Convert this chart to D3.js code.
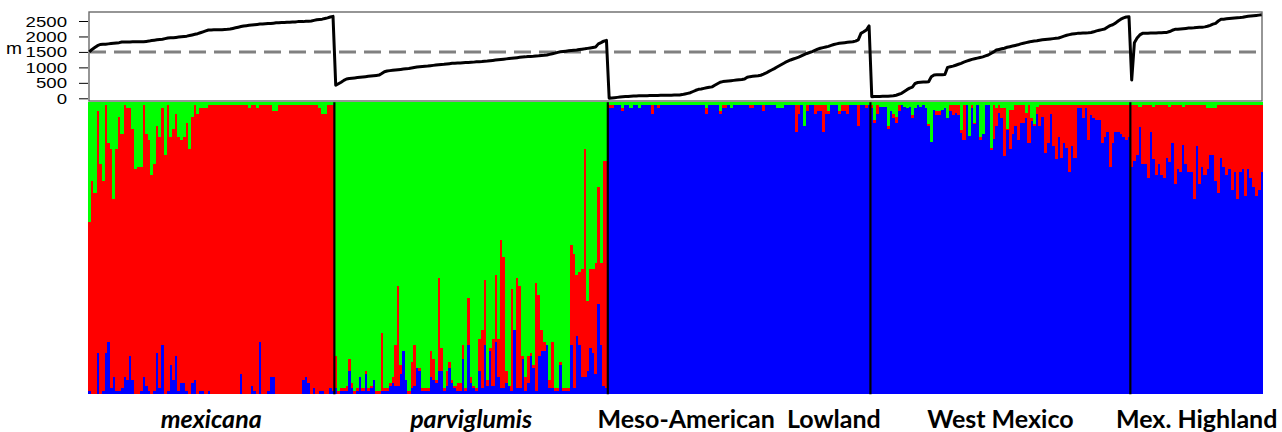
<!DOCTYPE html>
<html>
<head>
<meta charset="utf-8">
<script src="https://cdn.jsdelivr.net/npm/d3@7"></script>
<style>
  body { margin: 0; background: #fff; }
  svg { display: block; }
  .axis text, .unit { font-family: "Liberation Sans", Arial, sans-serif; font-size: 14px; fill: #000; }
  .grp { font-family: Lato, "Open Sans", sans-serif; font-weight: bold; font-size: 25px; }
</style>
</head>
<body>
<svg id="chart" width="1282" height="432"></svg>
<script>
// population labels under the bar plot
const groupNames = ["mexicana", "parviglumis", "Meso-American  Lowland", "West Mexico", "Mex. Highland"];
const italicGroups = ["mexicana", "parviglumis"];
const elevTicks = [0, 500, 1000, 1500, 2000, 2500];
const elevThreshold = 1500;

// altitude (m) of each individual, in plot order
const mexicanaElev = [1500,1580,1640,1700,1740,1750,1750,1760,1770,1780,
  1790,1800,1820,1820,1820,1820,1825,1825,1830,1830,
  1830,1840,1850,1870,1880,1890,1900,1910,1930,1950,
  1960,1960,1970,1980,1990,2000,2010,2030,2050,2070,
  2090,2120,2150,2180,2210,2210,2215,2215,2220,2220,
  2225,2230,2240,2260,2280,2300,2320,2340,2350,2360,
  2370,2380,2390,2400,2400,2410,2420,2420,2430,2440,
  2440,2450,2450,2460,2460,2470,2470,2480,2480,2480,
  2490,2490,2500,2520,2540,2550,2560,2580,2600,2630,
  2650];
const parviglumisElev = [420,470,520,580,625,640,650,660,670,680,
  690,700,710,720,730,740,750,800,860,885,
  895,905,915,925,935,945,955,965,980,995,
  1010,1020,1030,1040,1045,1055,1065,1075,1085,1095,
  1100,1110,1120,1130,1135,1140,1145,1150,1155,1160,
  1165,1170,1180,1185,1190,1200,1205,1215,1225,1235,
  1245,1255,1265,1275,1285,1295,1305,1315,1325,1335,
  1340,1350,1355,1360,1370,1375,1385,1390,1400,1420,
  1440,1460,1485,1505,1515,1525,1535,1545,1555,1565,
  1580,1590,1600,1615,1630,1645,1660,1760,1800,1850,
  1875];
const lowlandElev = [0,10,20,30,40,50,55,60,70,75,
  78,80,82,84,86,88,90,92,94,96,
  98,100,100,102,104,105,105,120,140,160,
  180,220,260,290,300,320,340,355,370,420,
  470,520,540,550,560,570,580,590,600,610,
  625,680,700,710,720,730,745,780,820,870,
  915,960,1010,1060,1110,1160,1200,1240,1270,1300,
  1330,1370,1410,1450,1480,1510,1550,1590,1620,1640,
  1660,1680,1710,1740,1760,1780,1790,1800,1810,1820,
  1830,1850,1890,2100,2150,2210,2340];
const westElev = [50,55,60,62,65,68,70,75,80,100,
  130,160,220,280,330,360,480,510,520,525,
  530,535,700,755,760,760,765,770,1000,1020,
  1040,1070,1100,1130,1170,1200,1230,1260,1280,1300,
  1320,1340,1370,1400,1450,1500,1560,1580,1600,1620,
  1650,1670,1690,1710,1730,1760,1780,1800,1820,1840,
  1850,1860,1880,1890,1900,1910,1920,1930,1940,1950,
  1980,2010,2040,2060,2080,2090,2100,2105,2110,2115,
  2120,2130,2150,2180,2200,2220,2240,2300,2350,2380,
  2430,2500,2560,2600,2630,2640];
const highlandElev = [590,1800,1950,2050,2100,2100,2105,2110,2110,2115,
  2120,2120,2125,2130,2160,2200,2230,2230,2240,2250,
  2260,2270,2275,2280,2290,2300,2300,2310,2330,2360,
  2400,2425,2500,2555,2560,2570,2580,2590,2600,2605,
  2610,2620,2640,2650,2660,2670,2680,2690,2700];

// ancestry proportions (K=3); the missing cluster of each group is the remainder
const mexicanaGreen = [0.41,0.27,0.31,0.03,0.21,0.27,0.01,0.14,0.16,0.33,
  0.16,0.05,0.11,0.01,0.02,0.02,0.09,0.23,0.22,0.22,
  0.01,0.11,0.13,0.25,0.21,0.08,0.12,0.02,0.18,0.01,
  0.12,0.09,0.04,0.12,0.13,0.12,0.07,0.16,0.05,0.01,
  0.04,0.02,0.02,0.02,0.01,0.01,0.01,0.01,0.01,0.01,
  0.01,0.01,0.01,0.01,0.01,0.01,0.01,0.01,0.01,0.02,
  0.01,0.01,0.02,0.01,0.01,0.01,0.01,0.01,0.03,0.03,
  0.01,0.01,0.01,0.01,0.01,0.01,0.01,0.01,0.01,0.01,
  0.01,0.01,0.01,0.01,0.01,0.02,0.04,0.04,0.01,0.01,
  0.01];
const mexicanaBlue = [0.01,0,0,0.14,0,0.01,0.14,0.18,0.02,0.06,
  0.01,0.01,0.02,0.06,0.05,0.13,0.05,0,0,0.01,
  0.06,0.03,0.01,0,0.01,0.14,0.02,0.17,0,0.01,
  0.10,0.05,0.13,0.01,0.04,0.04,0.01,0,0.04,0.05,
  0,0.01,0.01,0,0.01,0,0,0,0,0,
  0,0,0,0,0,0,0.07,0,0,0,
  0.03,0.01,0,0.18,0,0,0.01,0.06,0.06,0,
  0,0,0,0,0,0,0,0,0,0.05,
  0.06,0.04,0,0.02,0,0.01,0.01,0,0,0.02,
  0.01];
const parviglumisRed = [0.11,0.01,0.01,0.01,0.02,0.04,0.02,0.01,0.01,0,
  0.01,0.01,0.01,0.01,0,0.01,0.01,0.20,0.01,0.01,
  0.01,0.02,0.14,0.34,0.03,0,0,0.01,0.09,0.14,
  0,0.01,0.01,0.01,0.01,0.09,0.07,0.01,0.32,0.08,
  0.01,0.05,0.02,0.01,0.01,0.03,0.03,0.05,0.01,0.16,
  0.02,0.01,0.01,0.11,0.20,0.22,0.02,0.01,0.16,0.23,
  0.13,0.51,0.45,0.04,0,0.35,0,0.38,0.35,0.01,
  0.05,0.09,0.01,0.01,0.37,0.21,0.07,0.03,0,0.03,
  0.16,0.01,0.01,0.01,0.01,0.01,0.01,0.34,0.46,0.21,
  0.25,0.37,0.78,0.24,0.27,0.29,0.38,0.40,0.28,0.77,
  0.78];
const parviglumisBlue = [0.02,0,0.01,0.01,0.01,0.08,0.02,0,0.01,0.06,
  0.01,0.07,0.01,0.02,0.05,0,0,0.01,0.01,0.01,
  0.03,0.04,0.03,0.03,0.07,0.15,0.05,0,0.02,0.03,
  0.09,0.08,0.01,0.01,0.01,0.06,0.05,0.04,0.08,0.08,
  0.01,0.03,0.09,0.04,0.02,0.01,0.01,0.12,0.01,0.17,
  0.04,0.02,0.01,0.08,0.02,0.17,0.03,0.15,0.03,0.18,
  0.06,0.02,0.02,0.04,0.03,0.01,0.22,0.02,0.02,0.12,
  0.01,0.04,0.13,0.09,0.01,0.13,0.15,0.15,0.17,0.02,
  0.02,0.01,0.01,0.10,0.01,0.01,0.01,0.17,0.02,0.20,
  0.17,0.06,0.06,0.08,0.16,0.14,0.07,0.31,0.17,0.03,
  0.02];
const lowlandGreen = [0.01,0.01,0.01,0.01,0.01,0.02,0.01,0.01,0.02,0.01,
  0.01,0.02,0.01,0.01,0.01,0.01,0.01,0.01,0.01,0.01,
  0.01,0.01,0.01,0.01,0.01,0.01,0.01,0.01,0.01,0.01,
  0.01,0.01,0.01,0.01,0.01,0.01,0.02,0.01,0.01,0.01,
  0.01,0.03,0.01,0.01,0.01,0.02,0.01,0.01,0.01,0.01,
  0.01,0.01,0.01,0.01,0.01,0.01,0.01,0.01,0.01,0.01,
  0.01,0.01,0.02,0.02,0.02,0.01,0.01,0.01,0.01,0.01,
  0.01,0.01,0.08,0.01,0.01,0.01,0.01,0.01,0.01,0.01,
  0.01,0.03,0.01,0.01,0.01,0.03,0.01,0.01,0.01,0.01,
  0.01,0.01,0.01,0.01,0.01,0.01,0.01];
const lowlandRed = [0.01,0.01,0,0,0,0.01,0,0,0,0,
  0,0,0,0,0,0,0.03,0,0.01,0,
  0,0,0,0,0,0,0,0,0,0,
  0,0,0,0,0,0,0.02,0,0,0,
  0,0.01,0.01,0.01,0,0,0,0,0,0,
  0,0,0.01,0.01,0,0,0,0.02,0,0,
  0,0,0,0,0,0,0,0,0,0.09,
  0.03,0,0,0.02,0,0,0.03,0.02,0.02,0.09,
  0.03,0.01,0,0,0,0.01,0.02,0.02,0.03,0,
  0,0,0.07,0,0,0.01,0];
const westGreen = [0.01,0.06,0.01,0.015,0.015,0.015,0.08,0.03,0.04,0.05,
  0.01,0.01,0.015,0.02,0.015,0.045,0.02,0.01,0.015,0.01,
  0.02,0.075,0.135,0.025,0.03,0.03,0.025,0.02,0.055,0.01,
  0.01,0.01,0.01,0.095,0.01,0.01,0.115,0.01,0.07,0.01,
  0.12,0.11,0.01,0.01,0.155,0.01,0.02,0.01,0.02,0.02,
  0.09,0.025,0.025,0.01,0.01,0.01,0.01,0.035,0.01,0.055,
  0.075,0.015,0.01,0.01,0.01,0.01,0.01,0.01,0.01,0.01,
  0.01,0.01,0.01,0.01,0.01,0.01,0.01,0.01,0.01,0.01,
  0.01,0.01,0.01,0.01,0.01,0.01,0.01,0.01,0.01,0.01,
  0.01,0.01,0.01,0.01,0.01,0.01];
const westRed = [0.01,0.01,0.03,0,0,0,0.01,0,0.015,0.02,
  0.02,0,0,0,0,0.01,0,0,0,0,
  0,0.005,0,0,0.015,0.015,0,0,0,0.02,
  0.035,0.025,0.035,0.01,0.12,0,0,0.01,0.005,0,
  0.01,0,0,0,0.01,0.115,0.06,0.025,0.035,0.165,
  0.005,0.135,0.085,0.07,0.12,0.06,0.06,0.02,0.13,0.01,
  0.005,0.025,0.07,0.04,0.165,0.13,0.03,0.14,0.185,0.11,
  0.18,0.13,0.145,0.23,0.14,0.18,0.01,0.01,0.045,0.01,
  0.12,0.035,0.045,0.05,0.05,0.13,0.11,0.09,0.21,0.13,
  0.09,0.09,0.10,0.11,0.12,0.11];
const highlandGreen = [0.01,0.01,0.01,0.015,0.01,0.01,0.01,0.01,0.015,0.01,
  0.01,0.01,0.01,0.01,0.015,0.01,0.01,0.01,0.01,0.015,
  0.01,0.01,0.01,0.01,0.01,0.01,0.01,0.01,0.02,0.02,
  0.02,0.02,0.01,0.01,0.01,0.01,0.01,0.01,0.01,0.01,
  0.01,0.01,0.01,0.01,0.01,0.01,0.01,0.01,0.01];
const highlandRed = [0.21,0.19,0.17,0.07,0.20,0.20,0.25,0.09,0.18,0.24,
  0.20,0.24,0.25,0.18,0.19,0.13,0.27,0.22,0.23,0.13,
  0.20,0.23,0.23,0.32,0.14,0.27,0.21,0.24,0.21,0.16,
  0.16,0.25,0.30,0.18,0.21,0.24,0.22,0.29,0.23,0.32,
  0.23,0.22,0.31,0.22,0.25,0.28,0.31,0.29,0.23];

const clusterKeys = ["blue", "red", "green"];   // stacking order, bottom to top
const clusterColors = { blue: "#0000ff", red: "#ff0000", green: "#00ff00" };

// one row per individual
const groupSources = [
  { elev: mexicanaElev, green: mexicanaGreen, blue: mexicanaBlue },
  { elev: parviglumisElev, red: parviglumisRed, blue: parviglumisBlue },
  { elev: lowlandElev, green: lowlandGreen, red: lowlandRed },
  { elev: westElev, green: westGreen, red: westRed },
  { elev: highlandElev, green: highlandGreen, red: highlandRed }
];
const individuals = [];
groupSources.forEach((src, gi) => {
  src.elev.forEach((e, i) => {
    const row = { id: individuals.length, group: gi, elev: e };
    const given = clusterKeys.filter(k => src[k]);
    given.forEach(k => row[k] = src[k][i]);
    const rest = 1 - d3.sum(given, k => row[k]);
    clusterKeys.filter(k => !src[k]).forEach(k => row[k] = Math.max(0, rest));
    individuals.push(row);
  });
});

const svg = d3.select("#chart");
const plotLeft = 88, plotRight = 1263;

const x = d3.scaleBand()
  .domain(individuals.map(d => d.id))
  .range([plotLeft, plotRight])
  .padding(0);
const yQ = d3.scaleLinear().domain([0, 1]).range([394.3, 102.3]);
const yE = d3.scaleLinear().domain([0, 2500]).range([98.3, 21]);

// ---- ancestry bars
const stacked = d3.stack().keys(clusterKeys)(individuals);
svg.append("g")
  .attr("shape-rendering", "crispEdges")
  .selectAll("g")
  .data(stacked)
  .join("g")
  .attr("fill", s => clusterColors[s.key])
  .selectAll("rect")
  .data(s => s)
  .join("rect")
  .attr("x", d => x(d.data.id))
  .attr("width", x.bandwidth() + 0.4)
  .attr("y", d => yQ(d[1]))
  .attr("height", d => Math.max(0, yQ(d[0]) - yQ(d[1])));

// group boundaries
const groupExtents = groupNames.map((name, gi) => {
  const members = individuals.filter(d => d.group === gi);
  const x0 = x(members[0].id);
  const x1 = x(members[members.length - 1].id) + x.bandwidth();
  return { name, gi, x0, x1 };
});
svg.append("g")
  .selectAll("line")
  .data(groupExtents.slice(1))
  .join("line")
  .attr("x1", d => d.x0).attr("x2", d => d.x0)
  .attr("y1", yQ(1)).attr("y2", yQ(0))
  .attr("stroke", "#000")
  .attr("stroke-width", 2.2);

// group labels
svg.append("g")
  .selectAll("text")
  .data(groupExtents)
  .join("text")
  .attr("class", "grp")
  .attr("x", d => (d.x0 + d.x1) / 2)
  .attr("y", 428)
  .attr("text-anchor", "middle")
  .attr("font-style", d => italicGroups.includes(d.name) ? "italic" : "normal")
  .attr("xml:space", "preserve")
  .style("white-space", "pre")
  .text(d => d.name);

// ---- altitude panel
svg.append("rect")
  .attr("x", 89).attr("y", 12)
  .attr("width", 1173).attr("height", 89)
  .attr("fill", "none")
  .attr("stroke", "#6a6a6a")
  .attr("stroke-width", 1.4);

svg.append("line")
  .attr("x1", 89).attr("x2", 1262)
  .attr("y1", yE(elevThreshold)).attr("y2", yE(elevThreshold))
  .attr("stroke", "#808080")
  .attr("stroke-width", 3)
  .attr("stroke-dasharray", "17,8");

const elevLine = d3.line()
  .x(d => x(d.id) + x.bandwidth() / 2)
  .y(d => yE(d.elev));
svg.append("path")
  .datum(individuals)
  .attr("d", elevLine)
  .attr("fill", "none")
  .attr("stroke", "#000")
  .attr("stroke-width", 3)
  .attr("stroke-linejoin", "round");

const axis = svg.append("g")
  .attr("class", "axis")
  .attr("transform", `translate(${plotLeft},0)`)
  .call(d3.axisLeft(yE).tickValues(elevTicks).tickSize(9).tickSizeOuter(0).tickFormat(d3.format("d")));
axis.select(".domain").remove();
axis.selectAll(".tick line").attr("stroke", "#000").attr("stroke-width", 1);
axis.selectAll(".tick text")
  .attr("x", -21 / 1.33)
  .attr("dy", "0.36em")
  .attr("transform", "scale(1.33,1)")
  .attr("font-size", null);

svg.append("text")
  .attr("class", "unit")
  .attr("transform", "translate(14,54) scale(1.2,1)")
  .attr("text-anchor", "middle")
  .style("font-size", "16px")
  .text("m");
</script>
</body>
</html>
